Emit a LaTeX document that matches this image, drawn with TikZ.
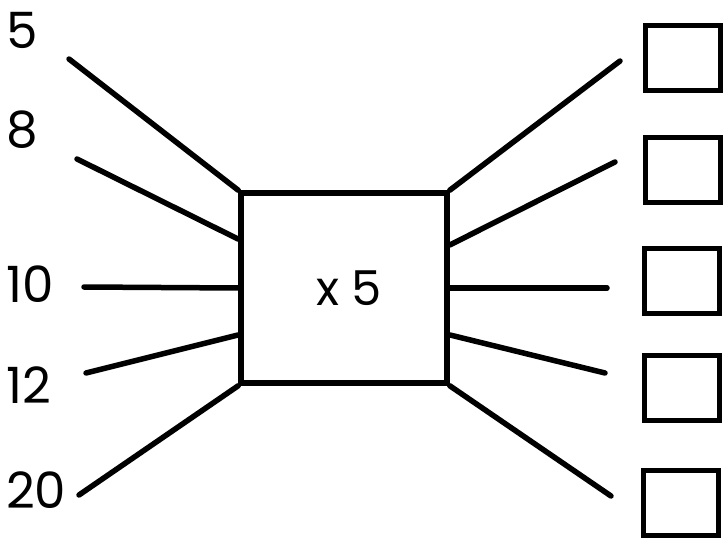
\documentclass[tikz,border=0pt]{standalone}
\usepackage{fontspec}
\setmainfont{Poppins}
\usetikzlibrary{calc}
\begin{document}
\begin{tikzpicture}[x=1pt,y=-1pt,
  wire/.style={line width=5.5pt,line cap=round},
  ansbox/.style={draw,line width=5.5pt,minimum width=75pt,minimum height=65pt,inner sep=0pt},
  num/.style={font=\fontsize{50}{50}\selectfont,inner sep=0pt,anchor=west}]
\useasboundingbox (0,0) rectangle (723,540);
\node[draw,line width=5.5pt,minimum width=206pt,minimum height=190pt,inner sep=0pt,
  label={[xshift=5pt,font=\fontsize{48}{48}\selectfont,inner sep=0pt]center:x 5}] (box) at (344,288) {};
% labels
\node[num] (l5) at (6,30) {5};
\node[num] (l8) at (6,130) {8};
\node[num] (l10) at (6,284) {10};
\node[num] (l12) at (6,385) {12};
\node[num] (l20) at (6,490) {20};
% left free ends
\coordinate (a1) at (69,59);
\coordinate (a2) at (77,159);
\coordinate (a3) at (84,287);
\coordinate (a4) at (86,373);
\coordinate (a5) at (79,495);
% right free ends
\coordinate (b1) at (620,61);
\coordinate (b2) at (615,162);
\coordinate (b3) at (607,288);
\coordinate (b4) at (605,373);
\coordinate (b5) at (611,496);
% box side points
\coordinate (w2) at ($(box.north west)!0.25!(box.south west)$);
\coordinate (w3) at ($(box.north west)!0.50!(box.south west)$);
\coordinate (w4) at ($(box.north west)!0.74!(box.south west)$);
\coordinate (e2) at ($(box.north east)!0.28!(box.south east)$);
\coordinate (e3) at ($(box.north east)!0.50!(box.south east)$);
\coordinate (e4) at ($(box.north east)!0.74!(box.south east)$);
\draw[wire] (a1) -- (box.north west);
\draw[wire] (a2) -- (w2);
\draw[wire] (a3) -- (w3);
\draw[wire] (a4) -- (w4);
\draw[wire] (a5) -- (box.south west);
\draw[wire] (box.north east) -- (b1);
\draw[wire] (e2) -- (b2);
\draw[wire] (e3) -- (b3);
\draw[wire] (e4) -- (b4);
\draw[wire] (box.south east) -- (b5);
% answer boxes
\node[ansbox] (r1) at (683,58) {};
\node[ansbox] (r2) at (683,170) {};
\node[ansbox] (r3) at (682,281) {};
\node[ansbox] (r4) at (682,388) {};
\node[ansbox] (r5) at (681,503) {};
\end{tikzpicture}
\end{document}
